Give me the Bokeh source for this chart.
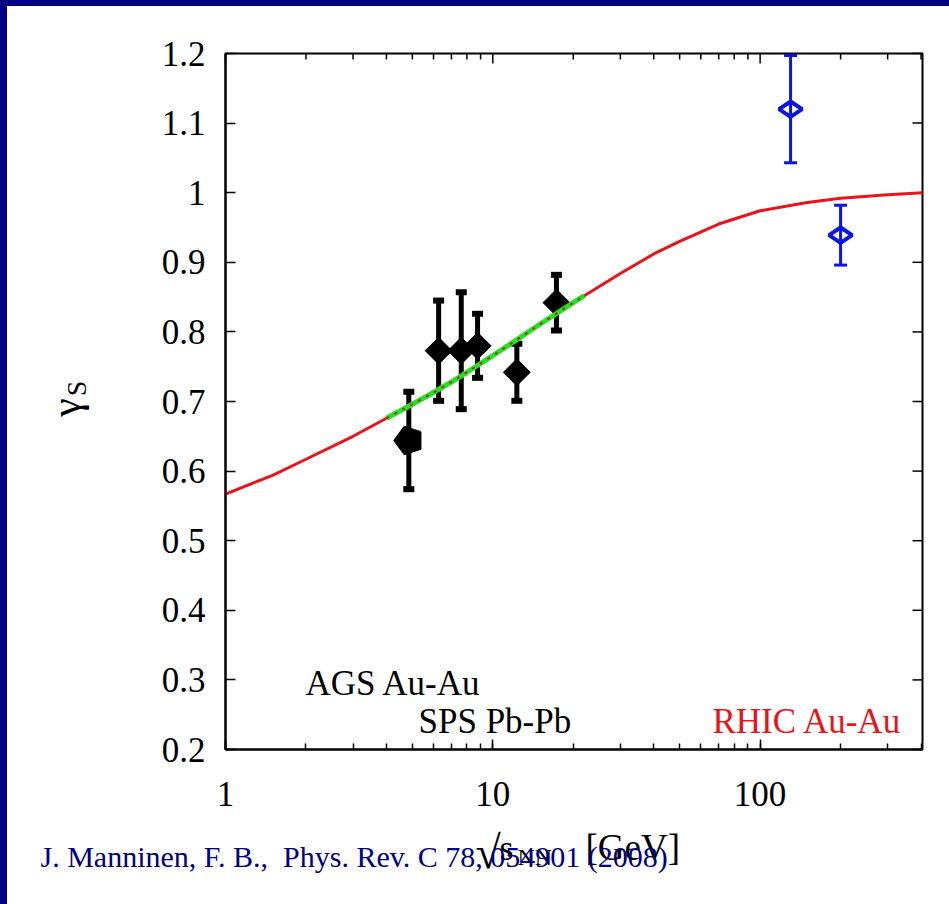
from math import pi, log10

import numpy as np
from bokeh.embed import file_html
from bokeh.layouts import column, row
from bokeh.models import (Div, FixedTicker, Label, LinearAxis, LogTicker,
                          PrintfTickFormatter)
from bokeh.plotting import figure
from bokeh.resources import INLINE

# ---- data: strangeness saturation factor vs collision energy ----
ags_energy = [4.85]
ags_gamma = [0.644]
ags_err = [0.070]

sps_energy = [6.27, 7.62, 8.77, 12.3, 17.3]
sps_gamma = [0.773, 0.773, 0.780, 0.742, 0.842]
sps_err = [0.072, 0.084, 0.046, 0.041, 0.040]

rhic_energy = [130.0, 200.0]
rhic_gamma = [1.120, 0.939]
rhic_err = [0.077, 0.043]

# fitted energy dependence
fit_energy = [1, 1.5, 2, 3, 4, 5, 6, 7, 8, 10, 12, 15, 20, 22, 30, 40, 50, 70,
              100, 150, 200, 300, 405]
fit_gamma = [0.567, 0.594, 0.617, 0.650, 0.676, 0.696, 0.713, 0.728, 0.742,
             0.766, 0.786, 0.811, 0.842, 0.852, 0.884, 0.912, 0.930, 0.955,
             0.974, 0.986, 0.992, 0.997, 1.000]
fit_window = (4, 22)   # energy span covered by the AGS/SPS points

x_ticks = [1, 10, 100]
y_ticks = [0.2, 0.3, 0.4, 0.5, 0.6, 0.7, 0.8, 0.9, 1.0, 1.1, 1.2]

# ---- geometry ----
NAVY = "#000080"
RED = "#e8141a"
BLUE = "#0a14e6"
SERIF = "Liberation Serif"
PAGE_W, PAGE_H = 949, 904
BAND_TOP, BAND_LEFT = 6, 7
FIG_W, FIG_H = PAGE_W - BAND_LEFT, PAGE_H - BAND_TOP
X_MIN, X_MAX = 1, 405
Y_MIN, Y_MAX = 0.2, 1.2
# page pixels of the plotting box
BOX_L, BOX_R, BOX_T, BOX_B = 225, 922, 53, 749
LIFT = 10   # baseline correction for annotation labels


def dx(px):
    """page pixel column -> data x on the log axis"""
    return X_MIN * 10 ** ((px - BOX_L) / (BOX_R - BOX_L) * log10(X_MAX / X_MIN))


def dy(py):
    """page pixel row -> data y"""
    return Y_MAX - (py - BOX_T) / (BOX_B - BOX_T) * (Y_MAX - Y_MIN)


# the frame fills the whole canvas; axes sit at fixed data locations
p = figure(width=FIG_W, height=FIG_H, x_axis_type="log",
           x_range=(dx(BAND_LEFT), dx(PAGE_W)),
           y_range=(dy(PAGE_H), dy(BAND_TOP)),
           output_backend="svg", toolbar_location=None, min_border=0)
p.background_fill_color = "white"
p.border_fill_color = "white"
p.outline_line_color = None
p.xgrid.grid_line_color = None
p.ygrid.grid_line_color = None

xax = p.xaxis[0]
yax = p.yaxis[0]
xax.ticker = LogTicker(desired_num_ticks=3, num_minor_ticks=10)
xax.formatter = PrintfTickFormatter(format="%g")
xax.fixed_location = Y_MIN
xax.bounds = (X_MIN, X_MAX)
yax.ticker = FixedTicker(ticks=y_ticks, minor_ticks=[])
yax.formatter = PrintfTickFormatter(format="%g")
yax.fixed_location = X_MIN
yax.bounds = (Y_MIN, Y_MAX)

for ax in (xax, yax):
    ax.axis_line_color = "black"
    ax.axis_line_width = 2
    ax.major_tick_in = 10
    ax.major_tick_out = 0
    ax.minor_tick_in = 6
    ax.minor_tick_out = 0
    ax.major_tick_line_width = 1.5
    ax.minor_tick_line_width = 1.5
    ax.major_label_text_font = SERIF
    ax.major_label_text_font_size = "35px"
    ax.major_label_text_color = "black"
xax.major_label_standoff = 32
yax.major_label_standoff = 20


def vtitle(text, size, center_py, near_px):
    """vertical title (bottom-to-top) carried by a tick-less left axis"""
    ax = LinearAxis(fixed_location=X_MIN,
                    bounds=(dy(center_py + 20), dy(center_py - 20)),
                    ticker=FixedTicker(ticks=[], minor_ticks=[]),
                    axis_line_color=None, major_tick_line_color=None,
                    minor_tick_line_color=None, major_tick_in=0,
                    major_tick_out=0, minor_tick_in=0, minor_tick_out=0,
                    major_label_standoff=0,
                    axis_label=text, axis_label_text_font=SERIF,
                    axis_label_text_font_size=f"{size}px",
                    axis_label_text_font_style="normal",
                    axis_label_text_color="black",
                    axis_label_standoff=BOX_L - near_px)
    p.add_layout(ax, "left")


# y axis title: gamma with subscript S
vtitle("γ", 42, 407, 88)
vtitle("S", 28, 388, 91)

# closing edges of the box and the mirrored ticks on top / right
p.quad(left=[X_MIN], right=[X_MAX], bottom=[Y_MIN], top=[Y_MAX],
       fill_color=None, line_color="black", line_width=2)
x_minor = [k * d for d in x_ticks for k in range(2, 10) if k * d <= X_MAX]
p.ray(x_ticks, [Y_MAX] * len(x_ticks), length=10, length_units="screen",
      angle=-pi / 2, line_color="black", line_width=1.5)
p.ray(x_minor, [Y_MAX] * len(x_minor), length=6, length_units="screen",
      angle=-pi / 2, line_color="black", line_width=1.5)
p.ray([X_MAX] * len(y_ticks), y_ticks, length=10, length_units="screen",
      angle=pi, line_color="black", line_width=1.5)

# ---- fitted curve ----
p.line(fit_energy, fit_gamma, line_color=RED, line_width=3)


# ---- data points ----
def bars(xs, ys, es, color, bar_w, cap_w, cap_h):
    lo = [y - e for y, e in zip(ys, es)]
    hi = [y + e for y, e in zip(ys, es)]
    p.segment(xs, lo, xs, hi, line_color=color, line_width=bar_w)
    p.rect(xs + xs, lo + hi, width=cap_w, height=cap_h,
           width_units="screen", height_units="screen",
           fill_color=color, line_color=None)


# RHIC: open blue diamonds
p.scatter(rhic_energy, rhic_gamma, marker="diamond", angle=pi / 2, size=23,
          fill_color="white", line_color=BLUE, line_width=4)
bars(rhic_energy, rhic_gamma, rhic_err, BLUE, 3, 13, 3)

# SPS: black diamonds
p.scatter(sps_energy, sps_gamma, marker="square", angle=pi / 4, size=19,
          fill_color="black", line_color="black", line_width=1)
bars(sps_energy, sps_gamma, sps_err, "black", 5, 11, 6)

# AGS: black pentagon
p.ngon(ags_energy, ags_gamma, radius=15, radius_units="screen", n=5,
       angle=pi / 2, fill_color="black", line_color="black")
bars(ags_energy, ags_gamma, ags_err, "black", 5, 11, 6)

# green band over the AGS/SPS range, drawn above the points
fx = np.array(fit_energy, dtype=float)
fy = np.array(fit_gamma, dtype=float)
mask = (fx >= fit_window[0]) & (fx <= fit_window[1])
p.line(fx[mask], fy[mask], line_color="#1ee61e", line_width=5)
p.line(fx[mask], fy[mask], line_color="#c0261a", line_width=2,
       line_dash="3 6")


# ---- texts ----
def label(px, py, text, size, color="black"):
    p.add_layout(Label(x=dx(px), y=dy(py - LIFT), text=text,
                       text_font=SERIF, text_font_size=f"{size}px",
                       text_color=color, text_align="left",
                       text_baseline="alphabetic"))


label(305, 693, "AGS Au-Au", 35)
label(418, 731, "SPS Pb-Pb", 35)
label(712, 731, "RHIC Au-Au", 35, color=RED)

# x axis title: sqrt(s_NN) [GeV]
label(475, 862, "√", 46)
label(499, 857, "s", 36)
label(517, 866, "NN", 24)
label(585, 857, "[GeV]", 37)

# reference line
label(40, 866, "J. Manninen, F. B.,\u00a0 Phys. Rev. C 78, 054901 (2008)", 30,
      color=NAVY)

top_band = Div(text="", width=PAGE_W, height=BAND_TOP, margin=0,
               styles={"background-color": NAVY})
left_band = Div(text="", width=BAND_LEFT, height=FIG_H, margin=0,
                styles={"background-color": NAVY})
page = column(top_band, row(left_band, p, margin=0, spacing=0),
              margin=0, spacing=0)

open("out.html", "w").write(file_html(page, INLINE))
